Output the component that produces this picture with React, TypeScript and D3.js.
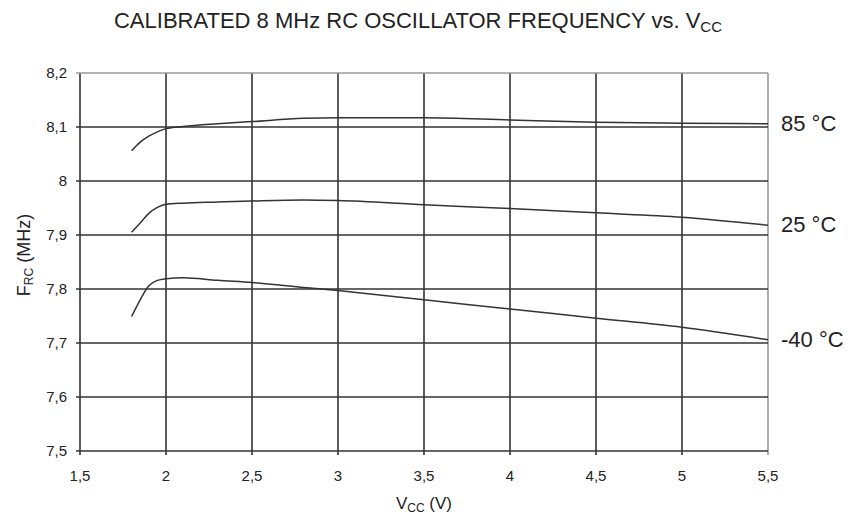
import React, { useEffect, useRef } from "react";
import * as d3 from "d3";

// supply voltage samples (V)
const vcc = [1.8, 1.85, 1.9, 1.95, 2.0, 2.1, 2.3, 2.5, 2.8, 3.0, 3.5, 4.0, 4.5, 5.0, 5.5];
// frequency readings (MHz) per temperature
const f85 = [8.056, 8.072, 8.083, 8.091, 8.097, 8.101, 8.106, 8.110, 8.116, 8.117, 8.117, 8.113, 8.109, 8.107, 8.106];
const f25 = [7.905, 7.922, 7.94, 7.951, 7.957, 7.959, 7.961, 7.963, 7.965, 7.964, 7.956, 7.949, 7.941, 7.933, 7.918];
const fm40 = [7.749, 7.78, 7.806, 7.816, 7.819, 7.821, 7.816, 7.812, 7.803, 7.797, 7.78, 7.763, 7.746, 7.729, 7.706];
const seriesLabels = ["85 °C", "25 °C", "-40 °C"];
const xTicks = [1.5, 2, 2.5, 3, 3.5, 4, 4.5, 5, 5.5];
const yTicks = [7.5, 7.6, 7.7, 7.8, 7.9, 8, 8.1, 8.2];

const App = () => {
  const svgRef = useRef<SVGSVGElement>(null);

  useEffect(() => {
    const w = 851;
    const h = 515;
    const m = { top: 73, left: 80, right: 83, bottom: 64 };
    const svg = d3.select(svgRef.current);
    svg.selectAll("*").remove();

    const x = d3.scaleLinear().domain([1.5, 5.5]).range([m.left, w - m.right]);
    const y = d3.scaleLinear().domain([7.5, 8.2]).range([h - m.bottom, m.top]);
    const fmt = (v: number) => String(+v.toFixed(1)).replace(".", ",");
    const font = "Liberation Sans, Arial, sans-serif";

    // title
    const title = svg.append("text")
      .attr("x", 418).attr("y", 28)
      .attr("text-anchor", "middle")
      .style("font-family", font).style("font-size", "22px").attr("fill", "#222");
    title.append("tspan").text("CALIBRATED 8 MHz RC OSCILLATOR FREQUENCY vs. V");
    title.append("tspan").attr("dy", 4).style("font-size", "15px").text("CC");

    // grid
    const grid = svg.append("g");
    grid.selectAll(".v").data(xTicks).join("line")
      .attr("x1", d => x(d)).attr("x2", d => x(d))
      .attr("y1", y(8.2)).attr("y2", y(7.5) + 4)
      .attr("stroke", (d, i) => i === xTicks.length - 1 ? "#999" : "#333")
      .attr("stroke-width", 1.6);
    grid.selectAll(".h").data(yTicks).join("line")
      .attr("y1", d => y(d)).attr("y2", d => y(d))
      .attr("x1", x(1.5) - 4).attr("x2", x(5.5))
      .attr("stroke", (d, i) => i === yTicks.length - 1 ? "#999" : "#333")
      .attr("stroke-width", 1.6);

    // tick labels
    svg.append("g").selectAll("text").data(xTicks).join("text")
      .attr("x", d => x(d)).attr("y", y(7.5) + 30)
      .attr("text-anchor", "middle")
      .style("font-family", font).style("font-size", "15px").attr("fill", "#222")
      .text(fmt);
    svg.append("g").selectAll("text").data(yTicks).join("text")
      .attr("x", x(1.5) - 13).attr("y", d => y(d) + 5)
      .attr("text-anchor", "end")
      .style("font-family", font).style("font-size", "15px").attr("fill", "#222")
      .text(fmt);

    // axis titles
    const xl = svg.append("text")
      .attr("x", x(3.5)).attr("y", 509)
      .attr("text-anchor", "middle")
      .style("font-family", font).style("font-size", "17px").attr("fill", "#222");
    xl.append("tspan").text("V");
    xl.append("tspan").attr("dy", 3).style("font-size", "12px").text("CC");
    xl.append("tspan").attr("dy", -3).text(" (V)");

    const yl = svg.append("text")
      .attr("transform", `translate(30,255) rotate(-90)`)
      .attr("text-anchor", "middle")
      .style("font-family", font).style("font-size", "18px").attr("fill", "#222");
    yl.append("tspan").text("F");
    yl.append("tspan").attr("dy", 3).style("font-size", "12px").text("RC");
    yl.append("tspan").attr("dy", -3).text(" (MHz)");

    // curves
    const series = [f85, f25, fm40];
    const line = d3.line<number>()
      .x((d, i) => x(vcc[i]))
      .y(d => y(d))
      .curve(d3.curveMonotoneX);
    svg.append("g").selectAll("path").data(series).join("path")
      .attr("d", d => line(d))
      .attr("fill", "none")
      .attr("stroke", "#333")
      .attr("stroke-width", 1.5);

    // series labels
    svg.append("g").selectAll("text").data(series).join("text")
      .attr("x", x(5.5) + 13)
      .attr("y", d => y(d[d.length - 1]) + 7)
      .style("font-family", font).style("font-size", "22px").attr("fill", "#222")
      .text((d, i) => seriesLabels[i]);
  }, []);

  return (
    <svg ref={svgRef} width={851} height={515}
      style={{ position: "absolute", top: 0, left: 0, background: "#fff" }} />
  );
};

export default App;
